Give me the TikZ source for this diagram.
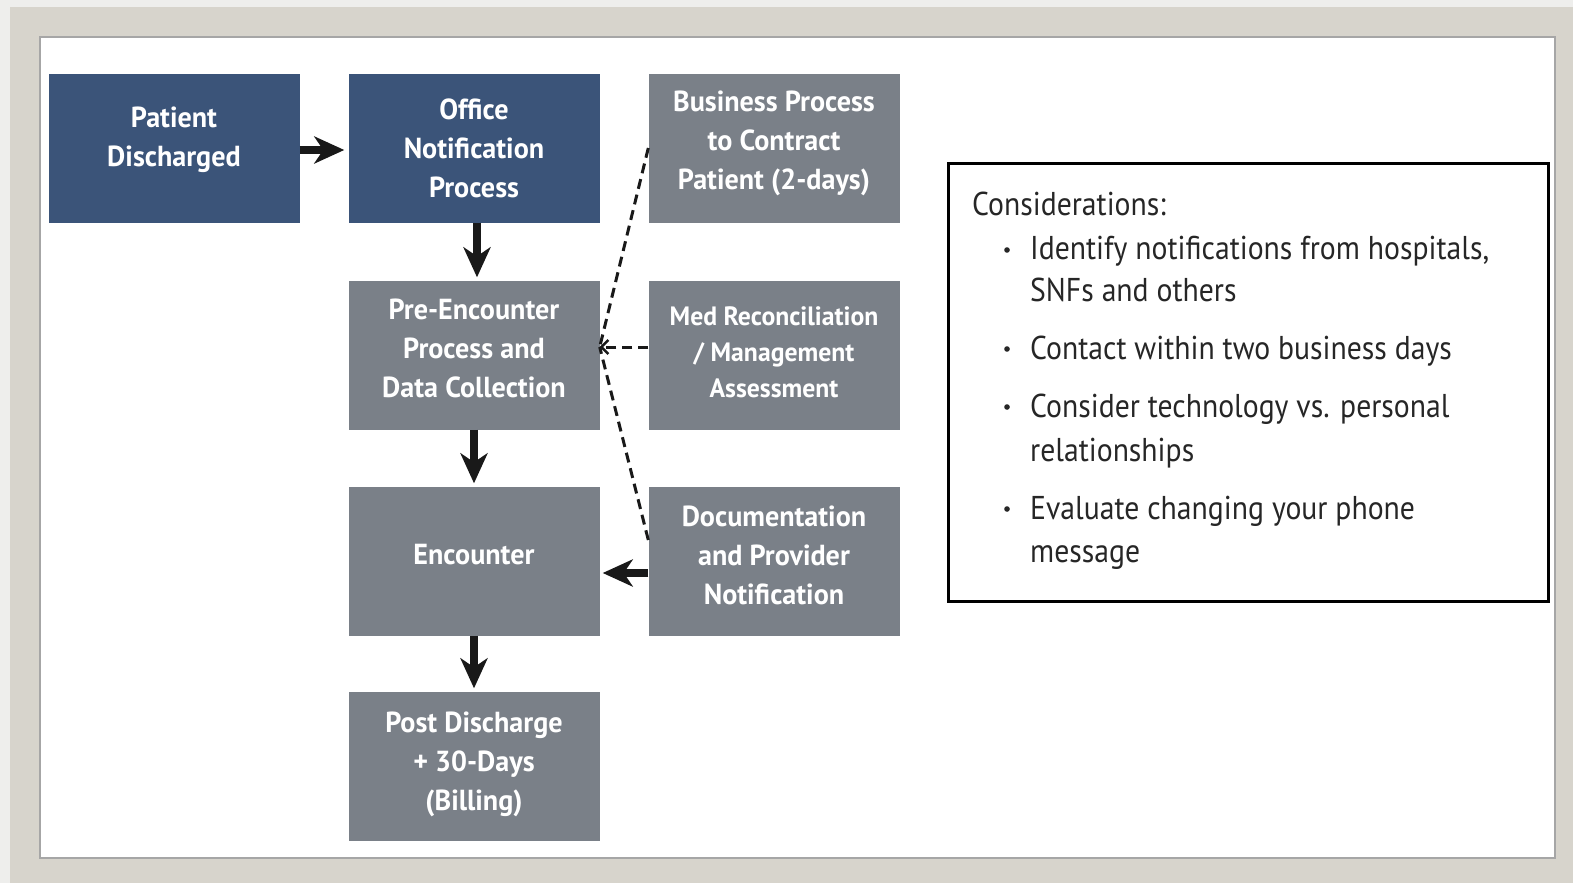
\documentclass[tikz,border=0pt]{standalone}
\usepackage{fontspec}
\setmainfont{PT Sans}
\newfontfamily\boxfont[FakeStretch=0.97]{PT Sans}
\newfontfamily\consfont[FakeStretch=0.9]{PT Sans}
\usetikzlibrary{arrows.meta}
\definecolor{frameg}{HTML}{D7D4CC}
\definecolor{shadeg}{HTML}{EEEEEC}
\definecolor{navybox}{HTML}{3B5479}
\definecolor{greybox}{HTML}{7A8088}
\begin{document}
\begin{tikzpicture}[x=1pt,y=-1pt,
  box/.style={minimum width=251pt,minimum height=149pt,inner sep=0pt},
  navy/.style={box,fill=navybox},
  slate/.style={box,fill=greybox},
  boxtext/.style={inner sep=0pt,align=center,text=white,
    font=\boxfont\bfseries\fontsize{29}{39}\selectfont},
  smalltext/.style={boxtext,font=\boxfont\bfseries\fontsize{26.5}{36}\selectfont},
  flow/.style={line width=8pt,draw=black!90,-{Stealth[length=30pt,width=27pt,inset=9pt]}},
  link/.style={dash pattern=on 10pt off 6pt,line width=3pt,draw=black!90},
  cons/.style={anchor=base west,inner sep=0pt,font=\consfont\fontsize{33}{42}\selectfont,text=black!85}]
\useasboundingbox (0,0) rectangle (1573,883);
% frame
\fill[shadeg] (0,0) rectangle (1573,883);
\fill[frameg] (10,7) rectangle (1573,883);
\filldraw[fill=white,draw=black!35,line width=1.5pt] (40,37) rectangle (1555,858);
% flow boxes
\node[navy,label={[boxtext,yshift=8pt]center:{Patient\\Discharged}}] (pd) at (174,148) {};
\node[navy,label={[boxtext]center:{Office\\Notification\\Process}}] (onp) at (474,148) {};
\node[slate,label={[boxtext,yshift=5pt]center:{Business Process\\to Contract\\Patient (2-days)}}] (bp) at (774,148) {};
\node[slate,label={[boxtext,yshift=7pt]center:{Pre-Encounter\\Process and\\Data Collection}}] (pre) at (474,355) {};
\node[slate,label={[smalltext,yshift=3pt]center:{Med Reconciliation\\/ Management\\Assessment}}] (med) at (774,355) {};
\node[slate,label={[boxtext,yshift=6pt]center:{Encounter}}] (enc) at (474,561) {};
\node[slate,label={[boxtext,yshift=6pt]center:{Documentation\\and Provider\\Notification}}] (doc) at (774,561) {};
\node[slate,label={[boxtext,yshift=2pt]center:{Post Discharge\\+ 30-Days\\(Billing)}}] (post) at (474,766) {};
% arrows
\draw[flow,shorten >=4pt] ([yshift=-2pt]pd.east) -- ([yshift=-2pt]onp.west);
\draw[flow,shorten >=3pt] ([xshift=3pt]onp.south) -- ([xshift=3pt]pre.north);
\draw[flow,shorten >=3pt] (pre.south) -- (enc.north);
\draw[flow,shorten >=3pt] (enc.south) -- (post.north);
\draw[flow,shorten >=3pt] ([yshift=-12pt]doc.west) -- ([yshift=-12pt]enc.east);
% dashed links
\coordinate (hub) at ([yshift=8pt]pre.east);
\draw[link] (bp.west) -- (hub);
\draw[link] ([yshift=21pt]doc.west) -- (hub);
\draw[link,-{Straight Barb[length=7pt,width=14pt,line width=2.5pt]}] ([yshift=8pt]med.west) -- (hub);
% considerations
\node[draw,line width=3pt,minimum width=600pt,minimum height=438pt,inner sep=0pt] (box) at (1248,382) {};
\node[cons] (c0) at (972,215) {Considerations:};
\node[cons] (c1) at (1030,259) {Identify notifications from hospitals,};
\node[cons] (c1b) at (1030,301) {SNFs and others};
\node[cons] (c2) at (1030,359) {Contact within two business days};
\node[cons] (c3) at (1030,417) {Consider technology vs. personal};
\node[cons] (c3b) at (1030,461) {relationships};
\node[cons] (c4) at (1030,519) {Evaluate changing your phone};
\node[cons] (c4b) at (1030,562) {message};
\foreach \yy in {250,349,407,509} \fill[black!85] (1007,\yy) circle (2.8pt);
\end{tikzpicture}
\end{document}
